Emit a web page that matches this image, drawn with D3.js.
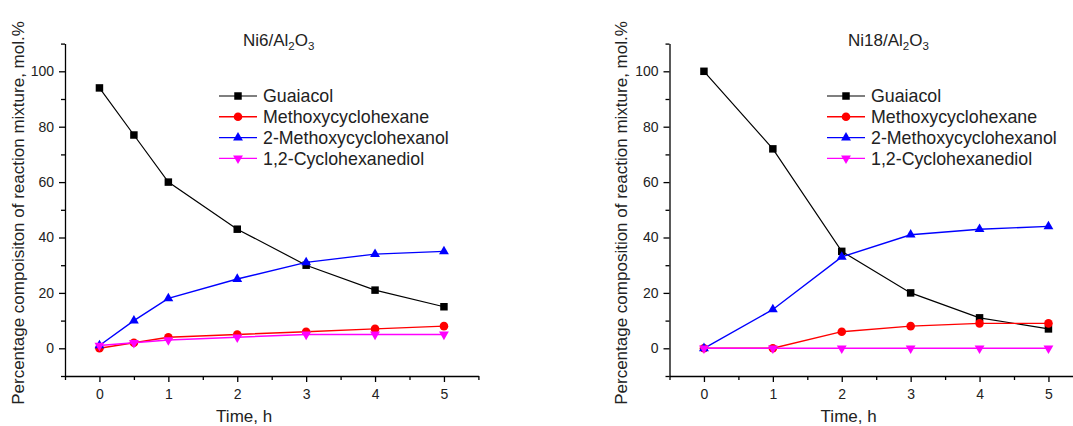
<!DOCTYPE html>
<html>
<head>
<meta charset="utf-8">
<script src="https://cdn.jsdelivr.net/npm/d3@7"></script>
<style>
  body { margin: 0; background: #fff; }
  svg { display: block; font-family: Arial, "Liberation Sans", sans-serif; }
  .tick text { font-size: 14px; fill: #222; }
  .domain, .tick line { stroke: #000; stroke-width: 1.3px; }
</style>
</head>
<body>
<script>
  // series names and colours used in both panels
  const seriesNames = ['Guaiacol', 'Methoxycyclohexane', '2-Methoxycyclohexanol', '1,2-Cyclohexanediol'];
  const seriesColors = ['#000000', '#ff0000', '#0000ff', '#ff00ff'];

  // Ni6/Al2O3 panel
  const times6 = [0, 0.5, 1, 2, 3, 4, 5];
  const guaiacol6 = [94, 77, 60, 43, 30, 21, 15];
  const methoxycyclohexane6 = [0, 2, 4, 5, 6, 7, 8];
  const methoxycyclohexanol6 = [1, 10, 18, 25, 31, 34, 35];
  const cyclohexanediol6 = [1, 2, 3, 4, 5, 5, 5];

  // Ni18/Al2O3 panel
  const times18 = [0, 1, 2, 3, 4, 5];
  const guaiacol18 = [100, 72, 35, 20, 11, 7];
  const methoxycyclohexane18 = [0, 0, 6, 8, 9, 9];
  const methoxycyclohexanol18 = [0, 14, 33, 41, 43, 44];
  const cyclohexanediol18 = [0, 0, 0, 0, 0, 0];

  // axis ticks
  const xTicks = [0, 1, 2, 3, 4, 5];
  const xMinorTicks = [-0.5, 0.5, 1.5, 2.5, 3.5, 4.5, 5.5];
  const yTicks = [0, 20, 40, 60, 80, 100];
  const yMinorTicks = [-10, 10, 30, 50, 70, 90, 110];

  const w = 1073;
  const h = 426;

  const svg = d3.select('body').append('svg')
    .attr('width', w)
    .attr('height', h);

  // marker shapes: square, circle, up triangle, down triangle
  const markers = [
    d3.symbol().type(d3.symbolSquare).size(56),
    d3.symbol().type(d3.symbolCircle).size(58),
    d3.symbol().type(d3.symbolTriangle).size(42),
    d3.symbol().type(d3.symbolTriangle).size(42)
  ];
  function markerTransform(i, x, y) {
    return 'translate(' + x + ',' + y + ')' + (i === 3 ? ' rotate(180)' : '');
  }

  function drawPanel(p) {
    const xScale = d3.scaleLinear().domain([-0.5, 5.5]).range([p.x0, p.x0 + 413.4]);
    const yScale = d3.scaleLinear().domain([-10, 110]).range([376, 43.6]);

    // minor ticks first, majors with labels on top
    svg.append('g')
      .attr('transform', 'translate(0,376)')
      .call(d3.axisBottom(xScale).tickValues(xMinorTicks).tickSize(4).tickFormat(''))
      .call((g) => g.select('.domain').remove());
    svg.append('g')
      .attr('transform', 'translate(0,376)')
      .call(d3.axisBottom(xScale).tickValues(xTicks).tickSize(6).tickSizeOuter(0)
        .tickPadding(7).tickFormat(d3.format('d')));

    svg.append('g')
      .attr('transform', 'translate(' + p.x0 + ',0)')
      .call(d3.axisLeft(yScale).tickValues(yMinorTicks).tickSize(4).tickFormat(''))
      .call((g) => g.select('.domain').remove());
    svg.append('g')
      .attr('transform', 'translate(' + p.x0 + ',0)')
      .call(d3.axisLeft(yScale).tickValues(yTicks).tickSize(6).tickSizeOuter(0).tickPadding(5));

    // axis titles
    svg.append('text')
      .attr('x', xScale(2.1))
      .attr('y', 421.5)
      .style('font-size', '17px')
      .style('fill', '#222')
      .attr('text-anchor', 'middle')
      .text('Time, h');

    svg.append('text')
      .attr('transform', 'translate(' + p.yTitleX + ',213) rotate(-90)')
      .style('font-size', '17px')
      .style('fill', '#222')
      .attr('text-anchor', 'middle')
      .attr('dy', '0.35em')
      .text(p.yTitle);

    // panel title with subscripts
    const title = svg.append('text')
      .attr('x', p.titleX)
      .attr('y', 46)
      .style('font-size', '17px')
      .style('fill', '#222');
    title.append('tspan').text(p.name + '/Al');
    title.append('tspan').attr('dy', 4).style('font-size', '11.5px').text('2');
    title.append('tspan').attr('dy', -4).text('O');
    title.append('tspan').attr('dy', 4).style('font-size', '11.5px').text('3');

    // lines and markers
    const line = d3.line()
      .x((d) => xScale(d[0]))
      .y((d) => yScale(d[1]));

    p.series.forEach((vals, i) => {
      const pts = p.times.map((t, j) => [t, vals[j]]);
      svg.append('path')
        .datum(pts)
        .attr('fill', 'none')
        .attr('stroke', seriesColors[i])
        .attr('stroke-width', i === 0 ? 1.2 : 1.4)
        .attr('d', line);
      svg.append('g').selectAll('path')
        .data(pts)
        .enter()
        .append('path')
        .attr('d', markers[i])
        .attr('fill', seriesColors[i])
        .attr('transform', (d) => markerTransform(i, xScale(d[0]), yScale(d[1])));
    });

    // legend
    seriesNames.forEach((name, i) => {
      const ly = 96 + i * 20.8;
      svg.append('line')
        .attr('x1', p.legendX)
        .attr('x2', p.legendX + 38)
        .attr('y1', ly)
        .attr('y2', ly)
        .attr('stroke', seriesColors[i])
        .attr('stroke-width', i === 0 ? 1.2 : 1.4);
      svg.append('path')
        .attr('d', markers[i])
        .attr('fill', seriesColors[i])
        .attr('transform', markerTransform(i, p.legendX + 19, ly));
      svg.append('text')
        .attr('x', p.legendX + 44)
        .attr('y', ly)
        .attr('dy', '0.35em')
        .style('font-size', '17.8px')
        .style('fill', '#222')
        .text(name);
    });
  }

  drawPanel({
    name: 'Ni6',
    x0: 65,
    yTitleX: 18,
    yTitle: 'Percentage compoisiton of reaction mixture, mol.%',
    titleX: 243,
    legendX: 219,
    times: times6,
    series: [guaiacol6, methoxycyclohexane6, methoxycyclohexanol6, cyclohexanediol6]
  });

  drawPanel({
    name: 'Ni18',
    x0: 669.5,
    yTitleX: 621,
    yTitle: 'Percentage composition of reaction mixture, mol.%',
    titleX: 848,
    legendX: 827,
    times: times18,
    series: [guaiacol18, methoxycyclohexane18, methoxycyclohexanol18, cyclohexanediol18]
  });
</script>
</body>
</html>
